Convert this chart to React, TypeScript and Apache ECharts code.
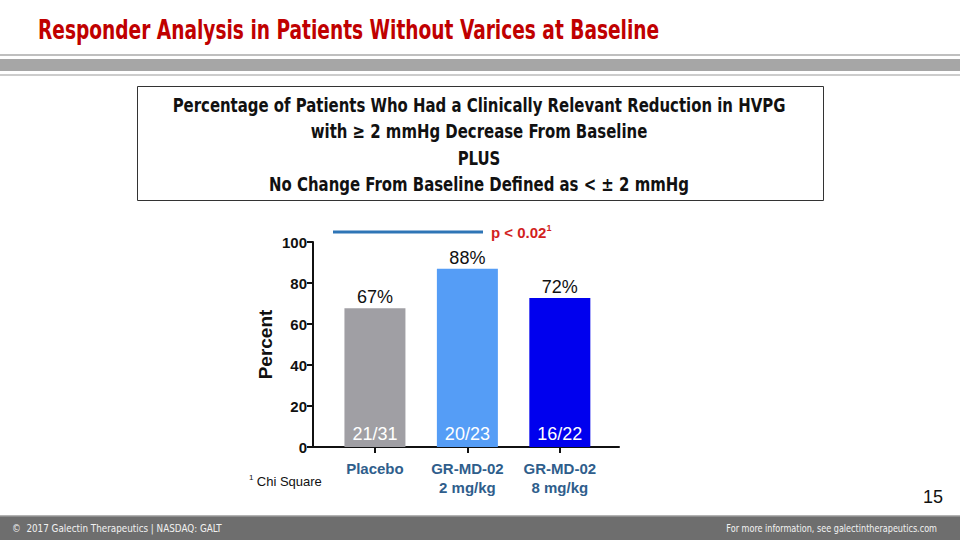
import React, { useEffect, useRef } from "react";
import * as echarts from "echarts";

const categories = ["Placebo", "GR-MD-02\n2 mg/kg", "GR-MD-02\n8 mg/kg"];
const percentValues = [67.7, 87.0, 72.7];
const percentLabels = ["67%", "88%", "72%"];
const ratioLabels = ["21/31", "20/23", "16/22"];
const barColors = ["#A09FA4", "#559DF6", "#0000EE"];
const yTicks = { min: 0, max: 100, interval: 20 };

const boxLines = [
  "Percentage of Patients Who Had a Clinically Relevant Reduction in HVPG",
  "with \u2265 2 mmHg Decrease From Baseline",
  "PLUS",
  "No Change From Baseline Defined as < \u00b1 2 mmHg",
];

const NARROW = "'Liberation Sans Narrow', 'DejaVu Sans Condensed', Arial, sans-serif";
const SANS = "'Liberation Sans', Arial, Helvetica, sans-serif";

export default function App() {
  const ref = useRef<HTMLDivElement>(null);
  useEffect(() => {
    if (!ref.current) return;
    const chart = echarts.init(ref.current, null, { renderer: "svg" });
    const option: any = {
      animation: false,
      backgroundColor: "#ffffff",
      grid: { left: 313, right: 341, top: 242, bottom: 93, containLabel: false },
      xAxis: {
        type: "value",
        min: -0.67,
        max: 2.64,
        splitLine: { show: false },
        axisLine: { show: true, onZero: false, lineStyle: { color: "#111", width: 2 } },
        axisTick: { show: true, customValues: [0, 1, 2], length: 6, lineStyle: { color: "#111", width: 2 } },
        axisLabel: {
          customValues: [0, 1, 2],
          formatter: (v: number) => categories[Math.round(v)] ?? "",
          color: "#2F5E8C",
          fontWeight: "bold",
          fontSize: 15,
          fontFamily: SANS,
          lineHeight: 19,
          margin: 12,
        },
      },
      yAxis: {
        type: "value",
        min: yTicks.min,
        max: yTicks.max,
        interval: yTicks.interval,
        name: "Percent",
        nameLocation: "middle",
        nameRotate: 90,
        nameGap: 38,
        nameTextStyle: { fontSize: 19, fontWeight: "bold", color: "#111", fontFamily: SANS },
        splitLine: { show: false },
        axisLine: { show: true, onZero: false, lineStyle: { color: "#111", width: 2 } },
        axisTick: { show: true, length: 6, lineStyle: { color: "#111", width: 2 } },
        axisLabel: { fontSize: 15, fontWeight: "bold", color: "#111", fontFamily: SANS, margin: 6 },
      },
      series: [
        {
          type: "bar",
          barWidth: 61,
          data: percentValues.map((v, i) => ({
            value: [i, v],
            itemStyle: { color: barColors[i] },
            label: {
              show: true,
              position: "top",
              distance: 2,
              formatter: percentLabels[i],
              fontSize: 18,
              color: "#111",
              fontFamily: SANS,
            },
          })),
        },
        {
          type: "bar",
          barWidth: 61,
          barGap: "-100%",
          silent: true,
          data: percentValues.map((v, i) => ({
            value: [i, v],
            itemStyle: { color: "transparent" },
            label: {
              show: true,
              position: "insideBottom",
              distance: 4,
              formatter: ratioLabels[i],
              fontSize: 18,
              color: "#ffffff",
              fontFamily: SANS,
            },
          })),
        },
      ],
      graphic: [
        {
          type: "text",
          x: 38,
          y: 30,
          scaleX: 0.795,
          style: {
            text: "Responder Analysis in Patients Without Varices at Baseline",
            fill: "#C00000",
            font: `bold 26px ${NARROW}`,
            textVerticalAlign: "middle",
          },
        },
        { type: "line", shape: { x1: 0, y1: 55, x2: 960, y2: 55 }, style: { stroke: "#AAAAAA", lineWidth: 1.5 } },
        { type: "rect", shape: { x: 0, y: 59, width: 960, height: 12 }, style: { fill: "#A6A6A6" } },
        { type: "line", shape: { x1: 0, y1: 75, x2: 960, y2: 75 }, style: { stroke: "#BBBBBB", lineWidth: 1.5 } },
        {
          type: "rect",
          shape: { x: 137.5, y: 86.5, width: 686, height: 114 },
          style: { fill: "none", stroke: "#333", lineWidth: 1 },
        },
        ...boxLines.map((t, i) => ({
          type: "text",
          x: 479,
          y: 105 + i * 26.3,
          scaleX: 0.83,
          style: {
            text: t,
            fill: "#111",
            font: `bold 20px ${NARROW}`,
            textAlign: "center",
            textVerticalAlign: "middle",
          },
        })),
        { type: "line", shape: { x1: 333, y1: 232, x2: 483, y2: 232 }, style: { stroke: "#2E75B6", lineWidth: 3 } },
        {
          type: "text",
          x: 491,
          y: 232,
          style: {
            text: "{a|p < 0.02}{s|1}",
            textVerticalAlign: "middle",
            rich: {
              a: { fill: "#D21F1F", fontSize: 15, fontWeight: "bold", fontFamily: SANS },
              s: { fill: "#D21F1F", fontSize: 9, fontWeight: "bold", fontFamily: SANS, padding: [0, 0, 8, 0] },
            },
          },
        },
        {
          type: "text",
          x: 249,
          y: 481,
          style: {
            text: "{s|1} {a|Chi Square}",
            textVerticalAlign: "middle",
            rich: {
              a: { fill: "#111", fontSize: 13, fontFamily: SANS },
              s: { fill: "#111", fontSize: 8, fontFamily: SANS, padding: [0, 0, 7, 0] },
            },
          },
        },
        {
          type: "text",
          x: 943,
          y: 497,
          style: { text: "15", fill: "#111", font: `18px ${SANS}`, textAlign: "right", textVerticalAlign: "middle" },
        },
        { type: "rect", shape: { x: 0, y: 516, width: 960, height: 24 }, style: { fill: "#6E6E6E" } },
        { type: "line", shape: { x1: 0, y1: 516, x2: 960, y2: 516 }, style: { stroke: "#9A9A9A", lineWidth: 1.5 } },
        {
          type: "text",
          x: 12,
          y: 528,
          scaleX: 0.89,
          style: {
            text: "\u00a9  2017 Galectin Therapeutics | NASDAQ: GALT",
            fill: "#F2F2F2",
            font: `11px ${NARROW}`,
            textVerticalAlign: "middle",
          },
        },
        {
          type: "text",
          x: 937,
          y: 528,
          scaleX: 0.82,
          style: {
            text: "For more information, see galectintherapeutics.com",
            fill: "#F2F2F2",
            font: `11px ${NARROW}`,
            textAlign: "right",
            textVerticalAlign: "middle",
          },
        },
      ],
    };
    chart.setOption(option);
    return () => chart.dispose();
  }, []);
  return (
    <div
      ref={ref}
      style={{ position: "fixed", left: 0, top: 0, width: 960, height: 540 }}
    />
  );
}
